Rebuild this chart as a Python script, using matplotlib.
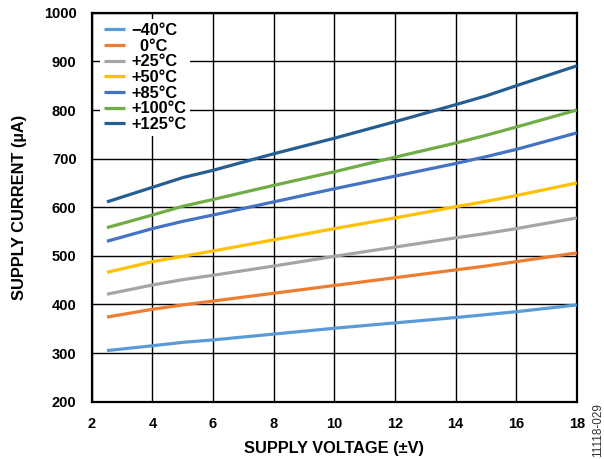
import numpy as np
import matplotlib
matplotlib.use('Agg')
import matplotlib.pyplot as plt
import matplotlib.ticker as ticker

plt.rcParams['font.family'] = ['Liberation Sans', 'DejaVu Sans']

# Supply voltage (±V) and supply current (uA) per temperature
voltage = [2.5, 4, 5, 6, 8, 10, 12, 14, 15, 16, 18]

curr_m40 = [305, 315, 322, 327, 339, 351, 362, 373, 379, 385, 399]
curr_0 = [374, 390, 399, 407, 423, 439, 455, 471, 479, 488, 506]
curr_25 = [421, 440, 451, 460, 479, 499, 518, 537, 546, 556, 578]
curr_50 = [466, 488, 499, 510, 533, 556, 578, 601, 612, 624, 650]
curr_85 = [530, 556, 571, 584, 611, 638, 664, 690, 704, 719, 753]
curr_100 = [558, 584, 602, 616, 645, 673, 703, 732, 748, 765, 800]
curr_125 = [611, 641, 661, 676, 710, 742, 776, 811, 829, 850, 891]

labels = ['\u221240°C', '  0°C', '+25°C', '+50°C', '+85°C', '+100°C', '+125°C']
colors = ['#5B9BD5', '#ED7D31', '#A5A5A5', '#FFC000', '#4472C4', '#70AD47', '#255E91']

series = [curr_m40, curr_0, curr_25, curr_50, curr_85, curr_100, curr_125]

fig = plt.figure(figsize=(6.04, 4.59), dpi=100)
ax = fig.add_axes([0.152, 0.125, 0.803, 0.847])

for ys, lab, col in zip(series, labels, colors):
    ax.plot(voltage, ys, color=col, linewidth=2.3, label=lab, zorder=3,
            solid_capstyle='butt')

ax.set_xlim(2, 18)
ax.set_ylim(200, 1000)
ax.xaxis.set_major_locator(ticker.MultipleLocator(2))
ax.yaxis.set_major_locator(ticker.MultipleLocator(100))
ax.grid(True, color='black', linewidth=1.0, zorder=1)
ax.set_axisbelow(True)
for spine in ax.spines.values():
    spine.set_linewidth(1.6)
    spine.set_color('black')

ax.tick_params(length=0, pad=11, labelsize=10.5)
for lbl in ax.get_xticklabels() + ax.get_yticklabels():
    lbl.set_fontweight('bold')

ax.set_xlabel('SUPPLY VOLTAGE (±V)', fontsize=11.8, fontweight='bold', labelpad=7)
ax.set_ylabel('SUPPLY CURRENT (µA)', fontsize=11.8, fontweight='bold', labelpad=12)

leg = ax.legend(loc='upper left', bbox_to_anchor=(0.008, 0.995), frameon=True,
                fancybox=False, edgecolor='none', facecolor='white',
                framealpha=1.0, fontsize=11.8, handlelength=1.3,
                handletextpad=0.35, labelspacing=0.04, borderpad=0.25,
                borderaxespad=0.25)
for t in leg.get_texts():
    t.set_fontweight('bold')
leg.set_zorder(5)

fig.text(0.99, 0.004, '11118-029', rotation=90, fontsize=8.5,
         ha='center', va='bottom', color='#333333')

fig.savefig('out.png', dpi=100)
